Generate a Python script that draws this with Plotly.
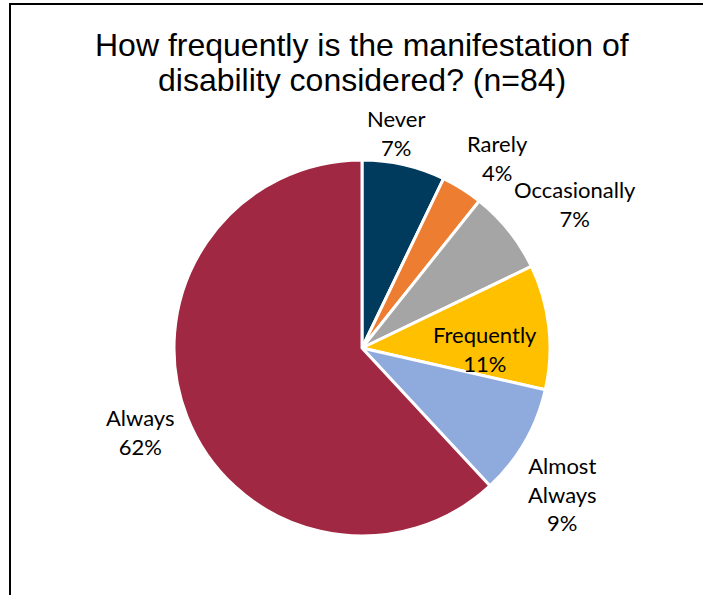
import plotly.graph_objects as go

categories = ["Never", "Rarely", "Occasionally", "Frequently", "Almost Always", "Always"]
label_text = ["Never", "Rarely", "Occasionally", "Frequently", "Almost<br>Always", "Always"]
counts = [6, 3, 6, 9, 8, 52]
pct_labels = ["7%", "4%", "7%", "11%", "9%", "62%"]
colors = ["#003A5D", "#ED7D31", "#A5A5A5", "#FFC000", "#8FAADC", "#A02842"]

# label anchor positions in screen pixels (centre x, top y)
label_pos = [(396, 103), (497, 128), (575, 174), (485, 319), (562, 450), (140, 402)]

W, H = 703, 595
cx, cy, r = 362, 348, 188


def px(x):
    return x / W


def py(y):
    return 1 - y / H


fig = go.Figure(go.Pie(
    labels=categories,
    values=counts,
    textinfo="none",
    sort=False,
    direction="clockwise",
    rotation=0,
    marker=dict(colors=colors, line=dict(color="white", width=3)),
    showlegend=False,
    hoverinfo="label+percent",
    domain=dict(x=[(cx - r) / W, (cx + r) / W], y=[(H - cy - r) / H, (H - cy + r) / H]),
))

annotations = []
for txt, pct, (lx, ly) in zip(label_text, pct_labels, label_pos):
    annotations.append(dict(
        text=f"{txt}<br>{pct}", x=px(lx), y=py(ly), xref="paper", yref="paper",
        xanchor="center", yanchor="top", showarrow=False,
        font=dict(family="Lato, Carlito, sans-serif", size=22, color="black"),
    ))

title_lines = ["How frequently is the manifestation of", "disability considered? (n=84)"]
for line, ty in zip(title_lines, [45, 80]):
    annotations.append(dict(
        text=line, x=px(362), y=py(ty), xref="paper", yref="paper",
        xanchor="center", yanchor="middle", showarrow=False,
        font=dict(family="Liberation Sans, Arial, sans-serif", size=32, color="black"),
    ))

fig.update_layout(
    width=W, height=H,
    margin=dict(l=0, r=0, t=0, b=0),
    paper_bgcolor="white",
    plot_bgcolor="white",
    annotations=annotations,
    shapes=[dict(type="path", xref="paper", yref="paper",
                 path=f"M {px(10)} 0 L {px(10)} {py(4)} L 1 {py(4)}",
                 line=dict(color="black", width=2))],
)

fig.write_html("out.html", config={"displayModeBar": False},
               post_script="document.body.style.margin='0';")
